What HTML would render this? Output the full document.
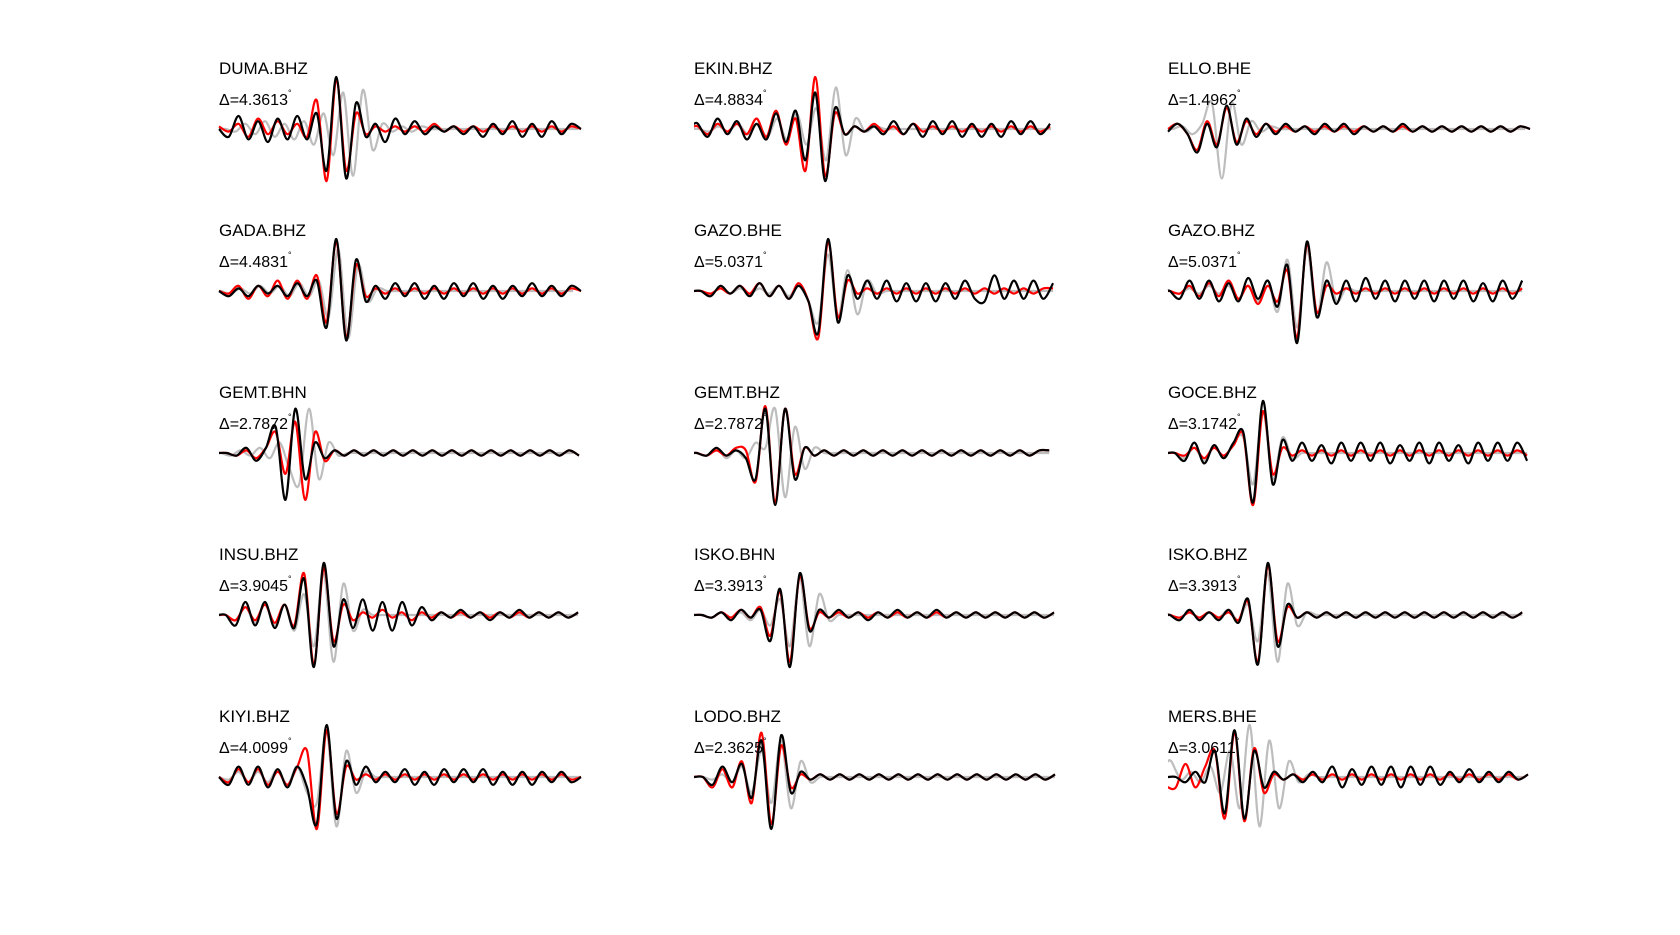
<!DOCTYPE html>
<html><head><meta charset="utf-8">
<style>
html,body{margin:0;padding:0;background:#fff;}
svg{display:block;}
text{font-family:"Liberation Sans",sans-serif;fill:#000;}
</style></head>
<body>
<svg id="fig" width="1680" height="935" viewBox="0 0 1680 935" xmlns="http://www.w3.org/2000/svg"></svg>
<script>
const stations = ["DUMA.BHZ","EKIN.BHZ","ELLO.BHE","GADA.BHZ","GAZO.BHE","GAZO.BHZ","GEMT.BHN","GEMT.BHZ","GOCE.BHZ","INSU.BHZ","ISKO.BHN","ISKO.BHZ","KIYI.BHZ","LODO.BHZ","MERS.BHE"];
const distances = ["4.3613","4.8834","1.4962","4.4831","5.0371","5.0371","2.7872","2.7872","3.1742","3.9045","3.3913","3.3913","4.0099","2.3625","3.0611"];
// time shifts (in samples) of each trace: black, red, gray
const shiftBlack = [0,0.4,0,0,0.7,0.2,0.8,0.3,0.7,0.7,0.8,0.2,0,0.9,0.8];
const shiftRed   = [0,0.4,0,0,0.7,0.2,0.8,0.3,0.7,0.7,0.8,0.2,0,0.9,0.8];
const shiftGray  = [0.7,0.5,0.5,0.2,0.7,0.2,0.2,0.3,0.7,0.7,0.8,0.2,0,0.9,0.35];

const blackTraces = [
[0,-0.15,0.25,-0.2,0.15,-0.25,0.2,-0.2,0.25,-0.2,0.3,-0.8,1.0,-0.95,0.5,-0.15,0.1,-0.25,0.2,-0.1,0.15,-0.1,0.05,-0.05,0.05,-0.1,0.05,-0.15,0.1,-0.1,0.15,-0.15,0.1,-0.15,0.15,-0.1,0.1,0],
[0.1,-0.15,0.2,-0.1,0.15,-0.2,0.1,-0.2,0.3,-0.25,0.35,-0.6,0.7,-1.0,0.4,-0.1,0.05,-0.05,0.05,-0.1,0.15,-0.1,0.1,-0.15,0.15,-0.1,0.15,-0.15,0.1,-0.15,0.1,-0.15,0.15,-0.1,0.15,-0.1,0.1,0],
[-0.05,0.1,-0.1,-0.45,0.1,-0.35,0.45,-0.3,0.2,-0.15,0.1,-0.1,0.1,-0.05,0.05,-0.1,0.1,-0.05,0.1,-0.1,0.05,-0.05,0.05,-0.05,0.1,-0.05,0.05,-0.05,0.05,-0.05,0.05,-0.05,0.05,-0.05,0.05,-0.05,0.05,0],
[0,-0.1,0.05,-0.1,0.1,-0.05,0.1,-0.1,0.15,-0.1,0.2,-0.7,1.0,-0.95,0.6,-0.2,0.1,-0.15,0.15,-0.1,0.15,-0.15,0.1,-0.15,0.15,-0.1,0.15,-0.15,0.1,-0.15,0.1,-0.1,0.15,-0.1,0.1,-0.1,0.1,0],
[0,-0.1,0.1,-0.05,0.1,-0.1,0.15,-0.1,0.1,-0.15,0.1,-0.2,-0.8,1.0,-0.6,0.3,-0.15,0.2,-0.15,0.2,-0.2,0.15,-0.2,0.15,-0.2,0.15,-0.15,0.2,-0.15,-0.2,0.3,-0.15,0.2,-0.15,0.2,-0.15,0.15,0],
[0,-0.15,0.2,-0.15,0.2,-0.2,0.15,-0.2,0.25,-0.15,0.2,-0.3,0.5,-1.0,0.95,-0.5,0.2,-0.25,0.2,-0.2,0.25,-0.15,0.2,-0.2,0.2,-0.15,0.2,-0.2,0.2,-0.15,0.2,-0.2,0.15,-0.2,0.2,-0.15,0.2,0],
[0,-0.05,0.1,-0.15,0.1,0.5,-0.9,0.85,-0.5,0.2,-0.1,0.05,-0.05,0.05,-0.05,0.05,-0.05,0.05,-0.05,0.05,-0.05,0.05,-0.05,0.05,-0.05,0.05,-0.05,0.05,-0.05,0.05,-0.05,0.05,-0.05,0.05,-0.05,0.05,-0.05,0],
[0,-0.05,0.1,-0.05,0.05,-0.1,-0.5,0.85,-1.0,0.85,-0.5,0.1,-0.05,0.05,-0.05,0.05,-0.05,0.05,-0.05,0.05,-0.05,0.05,-0.05,0.05,-0.05,0.05,-0.05,0.05,-0.05,0.05,-0.05,0.05,-0.05,0.05,-0.05,0.05,0.05,0],
[0,-0.15,0.2,-0.2,0.15,-0.1,0.2,0.4,-0.95,1.0,-0.6,0.25,-0.15,0.2,-0.15,0.15,-0.2,0.2,-0.15,0.2,-0.15,0.2,-0.2,0.15,-0.15,0.2,-0.2,0.2,-0.15,0.15,-0.2,0.2,-0.15,0.2,-0.15,0.2,-0.15,0],
[0,-0.2,0.25,-0.2,0.25,-0.25,0.2,-0.25,0.7,-1.0,1.0,-0.6,0.3,-0.25,0.3,-0.3,0.25,-0.3,0.25,-0.2,0.15,-0.1,0.05,-0.05,0.1,-0.05,0.05,-0.1,0.05,-0.05,0.1,-0.05,0.05,-0.05,0.05,-0.05,0.05,0],
[0,-0.05,0.05,-0.1,0.1,-0.05,0.1,-0.5,0.5,-1.0,0.8,-0.3,0.1,-0.05,0.1,-0.05,0.05,-0.1,0.05,-0.05,0.1,-0.05,0.05,-0.05,0.1,-0.05,0.05,-0.05,0.05,-0.05,0.05,-0.05,0.05,-0.05,0.05,-0.05,0.05,0],
[0,-0.1,0.1,-0.1,0.05,-0.1,0.1,-0.15,0.3,-0.95,1.0,-0.6,0.2,-0.05,0.05,-0.05,0.05,-0.05,0.05,-0.05,0.05,-0.05,0.05,-0.05,0.05,-0.05,0.05,-0.05,0.05,-0.05,0.05,-0.05,0.05,-0.05,0.05,-0.05,0.05,0],
[0,-0.15,0.2,-0.15,0.2,-0.2,0.15,-0.2,0.2,-0.2,-0.9,1.0,-0.8,0.3,-0.15,0.2,-0.1,0.1,-0.1,0.15,-0.15,0.1,-0.15,0.15,-0.1,0.15,-0.1,0.15,-0.15,0.1,-0.15,0.1,-0.15,0.1,-0.1,0.1,-0.1,0],
[0,-0.15,0.2,-0.1,0.25,-0.4,0.7,-1.0,0.8,-0.3,0.1,-0.05,0.05,-0.05,0.05,-0.05,0.05,-0.05,0.05,-0.05,0.05,-0.05,0.05,-0.05,0.05,-0.05,0.05,-0.05,0.05,-0.05,0.05,-0.05,0.05,-0.05,0.05,-0.05,0.05,0],
[0,-0.1,0.1,-0.1,0.5,-0.7,0.9,-0.8,0.5,-0.2,0.1,-0.05,0.05,-0.1,0.1,-0.1,0.2,-0.2,0.15,-0.15,0.2,-0.15,0.2,-0.2,0.2,-0.15,0.2,-0.15,0.1,-0.1,0.15,-0.1,0.1,-0.1,0.1,-0.05,0.05,0]
];
const redTraces = [
[0.05,-0.05,0.1,-0.15,0.2,-0.1,0.15,-0.1,0.1,-0.15,0.55,-1.0,0.95,-0.8,0.3,-0.1,0.05,-0.05,0.05,-0.05,0.05,-0.05,0.1,-0.05,0.05,-0.05,0.05,-0.05,0.05,-0.05,0.05,-0.05,0.05,-0.05,0.05,-0.05,0.05,0],
[0.05,-0.1,0.1,-0.05,0.1,-0.1,0.2,-0.15,0.35,-0.3,0.2,-0.8,1.0,-0.9,0.3,-0.1,0.05,-0.05,0.1,-0.05,0.05,-0.1,0.1,-0.05,0.05,-0.05,0.05,-0.05,0.05,-0.05,0.05,-0.05,0.05,-0.05,0.05,-0.05,0.05,0],
[0,0.1,-0.1,-0.4,0.15,-0.3,0.4,-0.25,0.15,-0.1,0.1,-0.05,0.05,-0.05,0.05,-0.05,0.05,-0.05,0.05,-0.05,0.05,-0.05,0.05,-0.05,0.05,-0.05,0.05,-0.05,0.05,-0.05,0.05,-0.05,0.05,-0.05,0.05,-0.05,0.05,0],
[0,-0.05,0.1,-0.15,0.1,-0.1,0.2,-0.15,0.2,-0.15,0.3,-0.6,0.95,-0.9,0.5,-0.1,0.05,-0.05,0.05,-0.05,0.05,-0.05,0.05,-0.05,0.05,-0.05,0.05,-0.05,0.05,-0.05,0.05,-0.05,0.05,-0.05,0.05,-0.05,0.05,0],
[0,-0.05,0.05,-0.05,0.1,-0.05,0.15,-0.1,0.1,-0.15,0.15,-0.2,-0.9,0.95,-0.5,0.2,-0.05,0.05,-0.05,0.05,-0.05,0.05,-0.05,0.05,-0.05,0.05,-0.05,0.05,-0.05,0.05,-0.05,0.05,-0.05,0.05,-0.05,0.05,0.05,0],
[0,-0.05,0.1,-0.1,0.15,-0.1,0.2,-0.15,0.1,-0.25,0.1,-0.2,0.4,-0.9,0.9,-0.4,0.1,-0.05,0.05,-0.05,0.05,-0.05,0.05,-0.05,0.05,-0.05,0.05,-0.05,0.05,-0.05,0.05,-0.05,0.05,-0.05,0.05,-0.05,0.05,0],
[0,-0.05,0.05,-0.1,0.1,0.4,-0.4,0.6,-0.9,0.4,-0.15,0.05,-0.05,0.05,-0.05,0.05,-0.05,0.05,-0.05,0.05,-0.05,0.05,-0.05,0.05,-0.05,0.05,-0.05,0.05,-0.05,0.05,-0.05,0.05,-0.05,0.05,-0.05,0.05,-0.05,0],
[0,-0.05,0.05,-0.05,0.1,0.05,-0.55,0.9,-0.95,0.85,-0.4,0.1,-0.05,0.05,-0.05,0.05,-0.05,0.05,-0.05,0.05,-0.05,0.05,-0.05,0.05,-0.05,0.05,-0.05,0.05,-0.05,0.05,-0.05,0.05,-0.05,0.05,-0.05,0.05,0.05,0],
[0,-0.05,0.1,-0.1,0.1,-0.05,0.15,0.35,-1.0,0.8,-0.4,0.1,-0.05,0.05,-0.05,0.05,-0.05,0.05,-0.05,0.05,-0.05,0.05,-0.05,0.05,-0.05,0.05,-0.05,0.05,-0.05,0.05,-0.05,0.05,-0.05,0.05,-0.05,0.05,-0.05,0],
[0,-0.1,0.15,-0.1,0.2,-0.15,0.2,-0.2,0.8,-0.95,0.9,-0.5,0.2,-0.1,0.05,-0.05,0.1,-0.05,0.05,-0.1,0.05,-0.05,0.05,-0.05,0.05,-0.05,0.05,-0.05,0.05,-0.05,0.05,-0.05,0.05,-0.05,0.05,-0.05,0.05,0],
[0,-0.05,0.05,-0.05,0.1,-0.05,0.15,-0.4,0.45,-0.9,0.75,-0.25,0.05,-0.05,0.05,-0.05,0.05,-0.05,0.05,-0.05,0.05,-0.05,0.05,-0.05,0.05,-0.05,0.05,-0.05,0.05,-0.05,0.05,-0.05,0.05,-0.05,0.05,-0.05,0.05,0],
[0,-0.05,0.05,-0.05,0.05,-0.05,0.05,-0.1,0.25,-0.9,0.95,-0.5,0.15,-0.05,0.05,-0.05,0.05,-0.05,0.05,-0.05,0.05,-0.05,0.05,-0.05,0.05,-0.05,0.05,-0.05,0.05,-0.05,0.05,-0.05,0.05,-0.05,0.05,-0.05,0.05,0],
[0,-0.1,0.15,-0.1,0.15,-0.15,0.1,-0.15,0.2,0.5,-1.0,0.9,-0.7,0.2,-0.05,0.05,-0.05,0.05,-0.05,0.05,-0.05,0.05,-0.05,0.05,-0.05,0.05,-0.05,0.05,-0.05,0.05,-0.05,0.05,-0.05,0.05,-0.05,0.05,-0.05,0],
[0,-0.2,0.15,-0.2,0.3,-0.5,0.85,-0.9,0.6,-0.2,0.05,-0.05,0.05,-0.05,0.05,-0.05,0.05,-0.05,0.05,-0.05,0.05,-0.05,0.05,-0.05,0.05,-0.05,0.05,-0.05,0.05,-0.05,0.05,-0.05,0.05,-0.05,0.05,-0.05,0.05,0],
[-0.2,0.25,-0.2,0.2,0.5,-0.8,0.85,-0.85,0.55,-0.3,0.05,-0.05,0.05,-0.05,0.05,-0.05,0.05,-0.05,0.05,-0.05,0.05,-0.05,0.05,-0.05,0.05,-0.05,0.05,-0.05,0.05,-0.05,0.05,-0.05,0.05,-0.05,0.05,-0.05,0.05,0]
];
const grayTraces = [
[0,-0.05,0.1,-0.1,0.15,-0.15,0.1,-0.2,0.15,-0.3,0.3,-0.5,0.7,-0.9,0.75,-0.4,0.1,-0.05,0.05,-0.05,0.05,0,0,0,0,0,0,0,0,0,0,0,0,0,0,0,0,0],
[0,-0.05,0.05,-0.05,0.1,-0.1,0.1,-0.15,0.2,-0.2,0.3,-0.3,0.4,-0.6,0.8,-0.5,0.2,-0.05,0.05,0,0,0,0,0,0,0,0,0,0,0,0,0,0,0,0,0,0,0],
[0,0.05,-0.1,0.1,0.5,-0.95,0.5,-0.3,0.15,-0.05,0.05,0,0,0,0,0,0,0,0,0,0,0,0,0,0,0,0,0,0,0,0,0,0,0,0,0,0,0],
[0,-0.05,0.05,-0.05,0.1,-0.05,0.1,-0.1,0.15,-0.1,0.2,-0.5,0.8,-0.9,0.5,-0.2,0.05,0,0,0,0,0,0,0,0,0,0,0,0,0,0,0,0,0,0,0,0,0],
[0,-0.05,0.05,-0.05,0.05,-0.05,0.05,-0.05,0.1,-0.1,0.1,-0.2,-0.6,0.7,-0.5,0.4,-0.45,0.2,-0.05,0,0,0,0,0,0,0,0,0,0,0,0,0,0,0,0,0,0,0],
[0,-0.05,0.05,-0.05,0.1,-0.05,0.1,-0.15,0.1,-0.2,0.2,-0.4,0.6,-0.7,0.8,-0.5,0.55,-0.2,0.05,0,0,0,0,0,0,0,0,0,0,0,0,0,0,0,0,0,0,0],
[0,-0.05,0.05,-0.05,0.1,-0.1,0.2,-0.3,-0.6,0.85,-0.5,0.2,-0.05,0,0,0,0,0,0,0,0,0,0,0,0,0,0,0,0,0,0,0,0,0,0,0,0,0],
[0,-0.05,0.1,-0.1,0.05,-0.1,0.2,0.1,0.85,-0.85,0.5,-0.3,0.1,0,0,0,0,0,0,0,0,0,0,0,0,0,0,0,0,0,0,0,0,0,0,0,0,0],
[0,-0.1,0.1,-0.15,0.15,-0.1,0.2,0.3,-0.6,0.8,-0.5,0.3,-0.1,0,0,0,0,0,0,0,0,0,0,0,0,0,0,0,0,0,0,0,0,0,0,0,0,0],
[0,-0.1,0.15,-0.15,0.2,-0.2,0.2,-0.3,0.4,-0.6,0.8,-0.9,0.6,-0.3,0.1,0,0,0,0,0,0,0,0,0,0,0,0,0,0,0,0,0,0,0,0,0,0,0],
[0,-0.05,0.05,-0.05,0.05,-0.1,0.1,-0.2,0.3,-0.6,0.7,-0.6,0.4,-0.1,0,0,0,0,0,0,0,0,0,0,0,0,0,0,0,0,0,0,0,0,0,0,0,0],
[0,-0.05,0.05,-0.05,0.05,-0.05,0.1,-0.1,0.2,-0.5,0.8,-0.9,0.6,-0.2,0.05,0,0,0,0,0,0,0,0,0,0,0,0,0,0,0,0,0,0,0,0,0,0,0],
[0,-0.05,0.1,-0.1,0.1,-0.1,0.15,-0.15,0.2,-0.3,-0.5,0.9,-0.95,0.5,-0.3,0.1,0,0,0,0,0,0,0,0,0,0,0,0,0,0,0,0,0,0,0,0,0,0],
[0,-0.05,0.05,-0.1,0.2,-0.3,0.5,-0.5,0.7,-0.6,0.3,-0.1,0,0,0,0,0,0,0,0,0,0,0,0,0,0,0,0,0,0,0,0,0,0,0,0,0,0],
[0.3,-0.05,0.1,-0.1,0.2,-0.3,0.5,-0.6,1.0,-0.95,0.7,-0.6,0.3,-0.1,0.05,0,0,0,0,0,0,0,0,0,0,0,0,0,0,0,0,0,0,0,0,0,0,0]
];

const svg = document.getElementById('fig');
const NS = 'http://www.w3.org/2000/svg';
const colX = [219, 694, 1168];
const rowY = [129, 291, 453, 615, 777];
const panelW = 362, ampPx = 52, nSteps = 37;

function xScale(p, t){ return colX[p%3] + t * panelW / nSteps; }
function yScale(p, a){ return rowY[Math.floor(p/3)] - a * ampPx; }

function tracePath(p, vals, shift){
  const pts = [];
  for (let i=0;i<vals.length;i++){
    const t = i + shift;
    if (t > nSteps + 0.01) break;
    pts.push([xScale(p,t), yScale(p,vals[i])]);
  }
  if (pts[0][0] > colX[p%3]) pts.unshift([colX[p%3], pts[0][1]]);
  let d = 'M' + pts[0][0].toFixed(1) + ' ' + pts[0][1].toFixed(1);
  for (let i=0;i<pts.length-1;i++){
    const p0 = pts[Math.max(0,i-1)], p1 = pts[i], p2 = pts[i+1], p3 = pts[Math.min(pts.length-1,i+2)];
    const c1x = p1[0] + (p2[0]-p0[0])/6, c1y = p1[1] + (p2[1]-p0[1])/6;
    const c2x = p2[0] - (p3[0]-p1[0])/6, c2y = p2[1] - (p3[1]-p1[1])/6;
    d += ' C' + c1x.toFixed(1)+' '+c1y.toFixed(1)+' '+c2x.toFixed(1)+' '+c2y.toFixed(1)+' '+p2[0].toFixed(1)+' '+p2[1].toFixed(1);
  }
  return d;
}

for (let p=0; p<stations.length; p++){
  const g = document.createElementNS(NS,'g');
  
  
  svg.appendChild(g);
  const x0 = colX[p%3], y0 = rowY[Math.floor(p/3)];

  const specs = [[grayTraces[p], shiftGray[p], '#bdbdbd', 'synthetic-trace-gray'],
                 [redTraces[p], shiftRed[p], '#ff0000', 'shifted-trace-red'],
                 [blackTraces[p], shiftBlack[p], '#000000', 'observed-trace-black']];
  for (const s of specs){
    const path = document.createElementNS(NS,'path');
    path.setAttribute('d', tracePath(p, s[0], s[1]));
    path.setAttribute('fill','none');
    path.setAttribute('stroke', s[2]);
    path.setAttribute('stroke-width','2.2');
    path.setAttribute('stroke-linejoin','round');
    
    
    g.appendChild(path);
  }

  const t1 = document.createElementNS(NS,'text');
  t1.setAttribute('x', x0); t1.setAttribute('y', y0 - 55);
  t1.setAttribute('font-size','17');
  t1.textContent = stations[p];
  
  
  g.appendChild(t1);

  const t2 = document.createElementNS(NS,'text');
  t2.setAttribute('x', x0); t2.setAttribute('y', y0 - 24);
  t2.setAttribute('font-size','16');
  t2.textContent = '\u0394=' + distances[p];
  const deg = document.createElementNS(NS,'tspan');
  deg.setAttribute('font-size','9');
  deg.setAttribute('dy','-9');
  deg.textContent = '\u00B0';
  t2.appendChild(deg);
  
  
  g.appendChild(t2);
}
</script>
</body></html>
